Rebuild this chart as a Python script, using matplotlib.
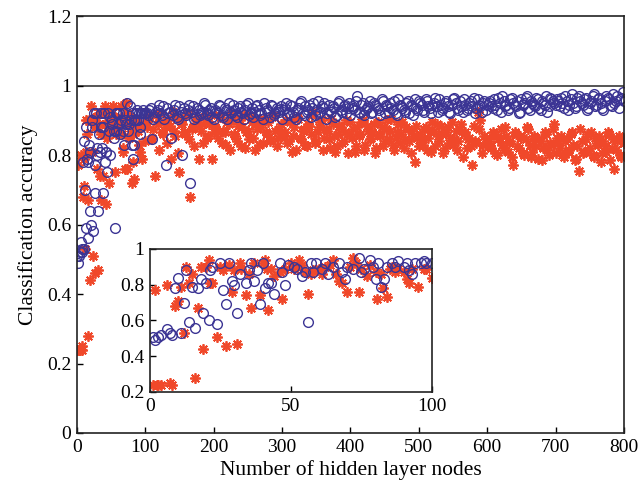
"""
Classification accuracy vs. number of hidden layer nodes, with a zoomed inset for 0-100 nodes.
"""

import matplotlib
matplotlib.use("Agg")
import matplotlib.pyplot as plt

plt.rcParams['font.family'] = ['Liberation Serif', 'DejaVu Serif']

BLUE = '#3b3494'
RED = '#f0482a'

# ---- data -----------------------------------------------------------------
# nodes 1..100 (also shown in the inset)
low_x_blue = [1, 2, 3, 4, 6, 7, 8, 9, 10, 11, 12, 13, 14, 15, 16, 17, 18, 19, 20, 21,
              21.5, 22, 24, 25, 26, 27, 28, 29, 30, 31, 32, 34, 35, 36, 37, 38, 39, 40, 41, 42,
              43, 44, 46, 47, 48, 49, 51, 52, 54, 55, 56, 57, 58, 59, 61, 62, 63, 65, 67, 68,
              69, 70, 72, 74, 75, 76, 78, 79, 80, 81, 82, 83, 84, 86, 87, 88, 90, 91, 92, 93,
              94, 96, 97, 98, 100]
low_y_blue = [0.51, 0.49, 0.51, 0.52, 0.55, 0.53, 0.52, 0.78, 0.84, 0.53, 0.70, 0.88, 0.59, 0.79, 0.56, 0.78, 0.83, 0.64, 0.81, 0.60,
              0.88, 0.90, 0.58, 0.92, 0.77, 0.69, 0.92, 0.82, 0.80, 0.64, 0.86, 0.81, 0.88, 0.92, 0.82, 0.88, 0.69, 0.92, 0.78, 0.81,
              0.81, 0.75, 0.92, 0.87, 0.80, 0.91, 0.90, 0.89, 0.85, 0.87, 0.59, 0.92, 0.87, 0.92, 0.89, 0.92, 0.86, 0.90, 0.92, 0.87,
              0.83, 0.90, 0.89, 0.95, 0.87, 0.89, 0.94, 0.90, 0.83, 0.92, 0.79, 0.83, 0.90, 0.92, 0.90, 0.93, 0.90, 0.92, 0.88, 0.86,
              0.92, 0.92, 0.93, 0.92, 0.92]

low_x_red = [1, 2, 2.5, 3, 4, 6, 7, 8, 9, 10, 11, 12, 13, 14, 15, 16, 17, 18, 19, 20,
             21, 21.5, 22, 24, 25, 26, 27, 28, 29, 30, 31, 32, 32.5, 34, 35, 36, 37, 39, 40, 41,
             41.5, 42, 43, 44, 46, 47, 48, 50, 51, 52, 53, 54, 55, 56, 57, 58, 59, 60, 61, 62,
             64, 65, 66, 67, 68, 70, 71, 72, 73, 74, 75, 77, 78, 80, 80.5, 82, 82.5, 84, 85, 86,
             87, 88, 90, 91, 92, 93, 95, 97, 98, 100]
low_y_red = [0.24, 0.77, 0.24, 0.24, 0.24, 0.80, 0.25, 0.24, 0.68, 0.71, 0.79, 0.53, 0.90, 0.81, 0.86, 0.28, 0.67, 0.90, 0.44, 0.90,
             0.94, 0.81, 0.81, 0.51, 0.90, 0.88, 0.46, 0.91, 0.76, 0.88, 0.47, 0.92, 0.89, 0.74, 0.86, 0.67, 0.92, 0.74, 0.92, 0.94,
             0.89, 0.66, 0.89, 0.85, 0.87, 0.72, 0.89, 0.92, 0.89, 0.90, 0.94, 0.91, 0.87, 0.75, 0.86, 0.88, 0.88, 0.89, 0.86, 0.90,
             0.91, 0.94, 0.86, 0.82, 0.81, 0.76, 0.90, 0.95, 0.92, 0.76, 0.89, 0.85, 0.91, 0.87, 0.72, 0.86, 0.78, 0.73, 0.89, 0.90,
             0.87, 0.89, 0.87, 0.83, 0.81, 0.89, 0.79, 0.89, 0.89, 0.84]

# nodes 102..798, every 4th node
high_x_a = list(range(102, 800, 4))
high_y_blue_a = [
    0.92, 0.93, 0.845, 0.91, 0.93, 0.92, 0.94, 0.77, 0.92, 0.85, 0.93, 0.91, 0.94, 0.80, 0.92, 0.93, 0.72, 0.94, 0.91, 0.93, 0.92, 0.95, 0.92, 0.93, 0.91,
    0.93, 0.92, 0.94, 0.91, 0.93, 0.95, 0.92, 0.93, 0.91, 0.94, 0.92, 0.93, 0.95, 0.92, 0.91, 0.94, 0.93, 0.92, 0.95, 0.93, 0.91, 0.94, 0.92, 0.93, 0.94,
    0.93, 0.95, 0.92, 0.94, 0.91, 0.93, 0.95, 0.92, 0.94, 0.93, 0.91, 0.95, 0.93, 0.92, 0.94, 0.95, 0.92, 0.93, 0.94, 0.91, 0.95, 0.93, 0.94, 0.92, 0.95,
    0.94, 0.93, 0.97, 0.92, 0.95, 0.93, 0.94, 0.92, 0.95, 0.94, 0.93, 0.96, 0.92, 0.94, 0.95, 0.93, 0.92, 0.96, 0.94, 0.93, 0.95, 0.92, 0.94, 0.96, 0.93,
    0.95, 0.93, 0.96, 0.94, 0.92, 0.95, 0.94, 0.96, 0.93, 0.95, 0.94, 0.92, 0.96, 0.95, 0.93, 0.94, 0.96, 0.93, 0.95, 0.94, 0.92, 0.96, 0.94, 0.95, 0.93,
    0.95, 0.94, 0.96, 0.93, 0.95, 0.97, 0.94, 0.93, 0.96, 0.95, 0.94, 0.92, 0.96, 0.95, 0.97, 0.93, 0.95, 0.94, 0.96, 0.93, 0.95, 0.97, 0.94, 0.96, 0.95,
    0.96, 0.94, 0.95, 0.97, 0.93, 0.96, 0.95, 0.94, 0.97, 0.95, 0.96, 0.93, 0.95, 0.97, 0.94, 0.96, 0.95, 0.93, 0.97, 0.96, 0.94, 0.95, 0.97, 0.96, 0.98,
]
high_y_red_a = [
    0.88, 0.91, 0.85, 0.74, 0.89, 0.92, 0.86, 0.88, 0.90, 0.79, 0.87, 0.91, 0.75, 0.89, 0.86, 0.92, 0.68, 0.88, 0.90, 0.79, 0.87, 0.91, 0.85, 0.89, 0.79,
    0.88, 0.85, 0.91, 0.87, 0.83, 0.89, 0.92, 0.86, 0.84, 0.90, 0.88, 0.82, 0.87, 0.91, 0.85, 0.89, 0.83, 0.88, 0.90, 0.86, 0.84, 0.91, 0.87, 0.85, 0.89,
    0.86, 0.90, 0.84, 0.81, 0.88, 0.91, 0.85, 0.87, 0.83, 0.89, 0.86, 0.925, 0.84, 0.88, 0.90, 0.85, 0.87, 0.82, 0.89, 0.81, 0.86, 0.88, 0.84, 0.90, 0.86,
    0.85, 0.81, 0.88, 0.86, 0.90, 0.83, 0.87, 0.85, 0.89, 0.82, 0.86, 0.88, 0.84, 0.90, 0.87, 0.83, 0.85, 0.89, 0.86, 0.82, 0.88, 0.84, 0.87, 0.78, 0.85,
    0.86, 0.83, 0.88, 0.85, 0.81, 0.87, 0.89, 0.84, 0.86, 0.82, 0.88, 0.85, 0.83, 0.87, 0.84, 0.89, 0.86, 0.82, 0.85, 0.77, 0.84, 0.925, 0.90, 0.83, 0.85,
    0.84, 0.82, 0.86, 0.80, 0.85, 0.83, 0.88, 0.81, 0.84, 0.77, 0.86, 0.82, 0.85, 0.80, 0.88, 0.83, 0.81, 0.85, 0.79, 0.84, 0.82, 0.86, 0.80, 0.83, 0.89,
    0.85, 0.82, 0.80, 0.84, 0.81, 0.86, 0.83, 0.79, 0.755, 0.84, 0.81, 0.86, 0.82, 0.80, 0.85, 0.83, 0.78, 0.84, 0.81, 0.86, 0.82, 0.76, 0.84, 0.80, 0.85,
]

# nodes 104..800, the in-between samples
high_x_b = list(range(104, 801, 4))
high_y_blue_b = [
    0.915, 0.935, 0.905, 0.925, 0.945, 0.915, 0.905, 0.935, 0.925, 0.915, 0.945, 0.905, 0.925, 0.935, 0.915, 0.945, 0.925, 0.905, 0.935, 0.915, 0.925, 0.945, 0.915, 0.935, 0.905,
    0.925, 0.945, 0.915, 0.935, 0.905, 0.925, 0.945, 0.915, 0.935, 0.925, 0.905, 0.945, 0.915, 0.935, 0.925, 0.945, 0.915, 0.905, 0.935, 0.925, 0.945, 0.915, 0.935, 0.925, 0.905,
    0.935, 0.915, 0.945, 0.925, 0.905, 0.935, 0.955, 0.915, 0.925, 0.945, 0.935, 0.915, 0.955, 0.925, 0.935, 0.905, 0.945, 0.925, 0.935, 0.915, 0.955, 0.925, 0.945, 0.935, 0.915,
    0.935, 0.955, 0.925, 0.945, 0.915, 0.935, 0.955, 0.925, 0.945, 0.935, 0.915, 0.955, 0.945, 0.925, 0.935, 0.955, 0.915, 0.945, 0.935, 0.925, 0.955, 0.945, 0.915, 0.935, 0.955,
    0.945, 0.925, 0.955, 0.935, 0.945, 0.965, 0.925, 0.945, 0.935, 0.955, 0.925, 0.945, 0.965, 0.935, 0.955, 0.925, 0.945, 0.935, 0.955, 0.965, 0.935, 0.945, 0.925, 0.955, 0.945,
    0.955, 0.935, 0.945, 0.965, 0.925, 0.955, 0.945, 0.935, 0.965, 0.945, 0.955, 0.925, 0.945, 0.965, 0.935, 0.955, 0.945, 0.965, 0.935, 0.955, 0.945, 0.925, 0.965, 0.955, 0.945,
    0.955, 0.965, 0.935, 0.955, 0.945, 0.975, 0.935, 0.965, 0.955, 0.945, 0.965, 0.935, 0.955, 0.975, 0.945, 0.965, 0.935, 0.955, 0.965, 0.945, 0.975, 0.955, 0.935, 0.965, 0.955,
]
high_y_red_b = [
    0.905, 0.845, 0.875, 0.915, 0.815, 0.865, 0.895, 0.835, 0.885, 0.925, 0.855, 0.805, 0.895, 0.865, 0.915, 0.845, 0.875, 0.825, 0.905, 0.885, 0.835, 0.895, 0.855, 0.915, 0.865,
    0.875, 0.915, 0.835, 0.865, 0.895, 0.815, 0.905, 0.855, 0.885, 0.825, 0.915, 0.865, 0.845, 0.895, 0.815, 0.875, 0.905, 0.835, 0.865, 0.895, 0.845, 0.915, 0.825, 0.875, 0.855,
    0.865, 0.835, 0.895, 0.855, 0.815, 0.905, 0.845, 0.875, 0.825, 0.885, 0.915, 0.835, 0.865, 0.895, 0.815, 0.875, 0.845, 0.905, 0.855, 0.825, 0.885, 0.835, 0.865, 0.805, 0.895,
    0.875, 0.825, 0.855, 0.895, 0.815, 0.885, 0.845, 0.865, 0.805, 0.895, 0.855, 0.825, 0.875, 0.845, 0.905, 0.815, 0.865, 0.835, 0.895, 0.845, 0.875, 0.805, 0.855, 0.885, 0.825,
    0.845, 0.875, 0.815, 0.865, 0.895, 0.825, 0.855, 0.885, 0.805, 0.865, 0.835, 0.895, 0.845, 0.815, 0.875, 0.795, 0.865, 0.845, 0.825, 0.885, 0.835, 0.875, 0.805, 0.855, 0.835,
    0.825, 0.865, 0.805, 0.845, 0.875, 0.815, 0.855, 0.835, 0.795, 0.865, 0.825, 0.855, 0.805, 0.845, 0.875, 0.795, 0.855, 0.825, 0.845, 0.785, 0.865, 0.815, 0.835, 0.875, 0.805,
    0.835, 0.855, 0.795, 0.845, 0.815, 0.865, 0.785, 0.825, 0.875, 0.805, 0.845, 0.815, 0.865, 0.795, 0.835, 0.855, 0.805, 0.825, 0.865, 0.785, 0.845, 0.815, 0.855, 0.795, 0.835,
]

main_xticks = [0, 100, 200, 300, 400, 500, 600, 700, 800]
main_yticks = [0, 0.2, 0.4, 0.6, 0.8, 1.0, 1.2]
main_yticklabels = ['0', '0.2', '0.4', '0.6', '0.8', '1', '1.2']
inset_xticks = [0, 50, 100]
inset_yticks = [0.2, 0.4, 0.6, 0.8, 1.0]
inset_yticklabels = ['0.2', '0.4', '0.6', '0.8', '1']

# ---- plotting ----------------------------------------------------------------
ASTERISK = (8, 2, 0)


def draw_series(ax, xb, yb, xr, yr):
    ax.plot(xr, yr, linestyle='none', marker=ASTERISK, markersize=7.5,
            markeredgecolor=RED, markeredgewidth=1.3, color=RED)
    ax.plot(xb, yb, linestyle='none', marker='o', markersize=7,
            markerfacecolor='none', markeredgecolor=BLUE, markeredgewidth=1.0)


def style_axes(ax, fs):
    ax.tick_params(direction='in', length=4, width=1, labelsize=fs,
                   top=False, right=False, pad=4)
    for sp in ax.spines.values():
        sp.set_linewidth(1.2)
        sp.set_color('#222222')


fig = plt.figure(figsize=(6.4, 4.94), dpi=100)
ax = fig.add_axes([0.120, 0.1235, 0.855, 0.844])

all_xb = low_x_blue + high_x_a + high_x_b
all_yb = low_y_blue + high_y_blue_a + high_y_blue_b
all_xr = low_x_red + high_x_a + high_x_b
all_yr = low_y_red + high_y_red_a + high_y_red_b

ax.axhline(1.0, color='#555555', linewidth=1.4, zorder=1)
draw_series(ax, all_xb, all_yb, all_xr, all_yr)
ax.set_xlim(0, 800)
ax.set_ylim(0, 1.2)
ax.set_xticks(main_xticks)
ax.set_yticks(main_yticks)
ax.set_yticklabels(main_yticklabels)
ax.set_xlabel('Number of hidden layer nodes', fontsize=15.5, labelpad=3)
ax.set_ylabel('Classification accuracy', fontsize=15.5, labelpad=6)
style_axes(ax, 14)

ins = fig.add_axes([0.234, 0.2065, 0.441, 0.2895])
draw_series(ins, low_x_blue, low_y_blue, low_x_red, low_y_red)
ins.set_xlim(0, 100)
ins.set_ylim(0.2, 1.0)
ins.set_xticks(inset_xticks)
ins.set_yticks(inset_yticks)
ins.set_yticklabels(inset_yticklabels)
style_axes(ins, 14)

fig.savefig('out.png', dpi=100)
plt.close(fig)
